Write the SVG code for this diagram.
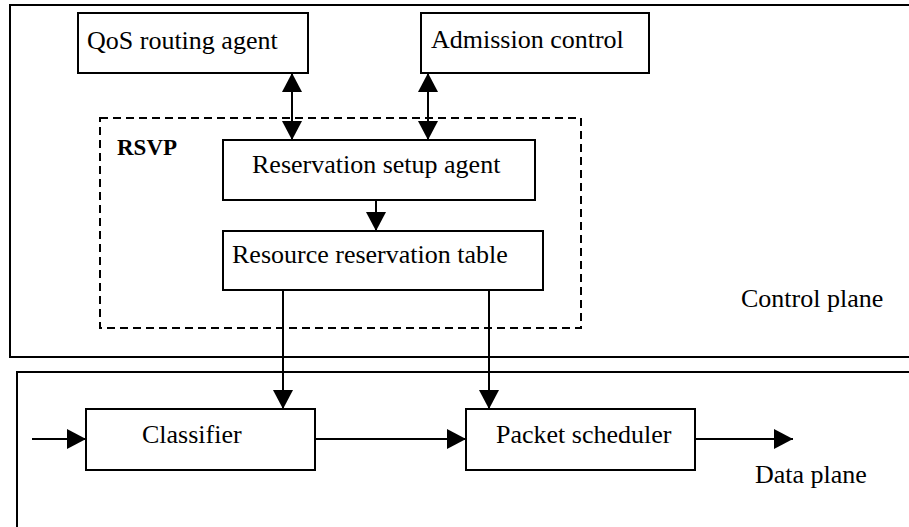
<svg xmlns="http://www.w3.org/2000/svg" width="909" height="527" viewBox="0 0 909 527">
<style>
.box{fill:#fff;stroke:#000;stroke-width:2}
.plane{fill:none;stroke:#000;stroke-width:2}
.dash{fill:none;stroke:#000;stroke-width:2;stroke-dasharray:8,5}
text{font-family:'Liberation Serif','Times New Roman',Tinos,'DejaVu Serif',serif;font-size:26px;fill:#000}
.b{font-size:23px;font-weight:bold}
.c{stroke:#000;stroke-width:2;fill:none}
</style>
<defs>
<marker id="ah" markerUnits="userSpaceOnUse" markerWidth="20" markerHeight="20" viewBox="0 0 19 20" refX="19" refY="10" orient="auto-start-reverse">
<path d="M0,0 L19,10 L0,20 Z" fill="#000"/>
</marker>
</defs>
<rect width="909" height="527" fill="#fff"/>
<g id="control-plane">
<rect class="plane" x="10" y="5" width="1000" height="352"/>
<text x="741" y="307">Control plane</text>
</g>
<g id="data-plane">
<rect class="plane" x="17" y="372" width="1000" height="300"/>
<text x="755" y="483">Data plane</text>
</g>
<g id="rsvp">
<rect class="dash" x="100" y="118" width="481" height="210"/>
<text class="b" x="117" y="155">RSVP</text>
</g>
<g id="qos-routing-agent">
<rect class="box" x="78" y="13" width="230" height="60"/>
<text x="87" y="49">QoS routing agent</text>
</g>
<g id="admission-control">
<rect class="box" x="421" y="13" width="228" height="60"/>
<text x="431" y="48">Admission control</text>
</g>
<g id="reservation-setup-agent">
<rect class="box" x="223" y="140" width="312" height="60"/>
<text x="252" y="173">Reservation setup agent</text>
</g>
<g id="resource-reservation-table">
<rect class="box" x="223" y="231" width="320" height="59"/>
<text x="232" y="263">Resource reservation table</text>
</g>
<g id="classifier">
<rect class="box" x="86" y="409" width="229" height="61"/>
<text x="142" y="443">Classifier</text>
</g>
<g id="packet-scheduler">
<rect class="box" x="466" y="409" width="229" height="61"/>
<text x="496" y="443">Packet scheduler</text>
</g>
<g id="connectors">
<line class="c" x1="292" y1="73" x2="292" y2="140" marker-start="url(#ah)" marker-end="url(#ah)"/>
<line class="c" x1="428" y1="73" x2="428" y2="140" marker-start="url(#ah)" marker-end="url(#ah)"/>
<line class="c" x1="376" y1="200" x2="376" y2="231" marker-end="url(#ah)"/>
<line class="c" x1="283" y1="290" x2="283" y2="409" marker-end="url(#ah)"/>
<line class="c" x1="489" y1="290" x2="489" y2="409" marker-end="url(#ah)"/>
<line class="c" x1="32" y1="439" x2="86" y2="439" marker-end="url(#ah)"/>
<line class="c" x1="315" y1="439" x2="466" y2="439" marker-end="url(#ah)"/>
<line class="c" x1="695" y1="439" x2="793" y2="439" marker-end="url(#ah)"/>
</g>
</svg>
